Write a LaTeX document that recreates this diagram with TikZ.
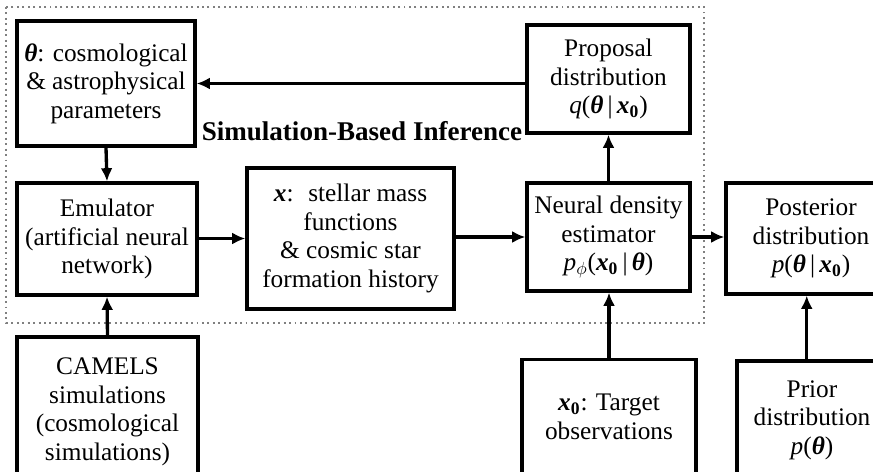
\documentclass[tikz,border=0pt]{standalone}
\usepackage{fontspec}
\setmainfont{Liberation Serif}
\usetikzlibrary{arrows.meta, calc, positioning}
\newcommand{\bth}{\textbf{\textit{θ}}}
\newcommand{\bx}{\textbf{\textit{x}}}
\newcommand{\bxo}{\bx\textsubscript{\textbf{0}}}

\begin{document}
\begin{tikzpicture}[x=0.02cm,y=-0.02cm,
  box/.style={draw, line width=1.9pt, align=center, inner sep=1pt, font=\fontsize{14.4}{16.2}\selectfont},
  arr/.style={line width=1.9pt, -{Latex[length=7.5pt,width=6.8pt]}}]
\useasboundingbox (0,0) rectangle (873,471);
\clip (0,0) rectangle (873,471);
% simulation-based inference frame
\draw[gray, dotted, line width=1.1pt] (6,7) rectangle (704,323);
\node[font=\fontsize{15.4}{17}\selectfont\bfseries] (sbi) at (362,131) {Simulation-Based Inference};
\node[box, minimum width=3.56cm, minimum height=2.5cm] (theta) at (106,83.5) {\bth: cosmological\\ \& astrophysical\\ parameters};
\node[box, minimum width=3.6cm, minimum height=2.24cm] (emu) at (107,239) {Emulator\\ (artificial neural\\ network)};
\node[box, minimum width=4.14cm, minimum height=2.82cm] (xsum) at (350.5,238.5) {\bx:~ stellar mass\\ functions\\ \& cosmic star\\ formation history};
\node[box, minimum width=3.26cm, minimum height=2.16cm] (prop) at (608.5,79) {Proposal\\ distribution\\ \textit{q}(\bth\,|\,\bxo)};
\node[box, minimum width=3.26cm, minimum height=2.16cm] (nde) at (608.5,237) {Neural density\\ estimator\\ \textit{p}$_\phi$(\bxo\,|\,\bth)};
\node[box, minimum width=3.4cm, minimum height=2.22cm] (post) at (811,238.5) {Posterior\\ distribution\\ \textit{p}(\bth\,|\,\bxo)};
% inputs below the frame
\node[box, minimum width=3.62cm, minimum height=3cm] (camels) at (107.5,412) {CAMELS\\ simulations\\ (cosmological\\ simulations)};
\node[box, minimum width=3.48cm, minimum height=2.3cm] (obs) at (609,417) {\bxo: Target\\ observations};
\node[box, minimum width=3cm, minimum height=2.36cm] (prior) at (812,420) {Prior\\ distribution\\ \textit{p}(\bth)};
% connectors
\draw[arr] (prop.west |- theta.east) -- (theta.east);
\draw[arr] (theta.south) -- (emu.north);
\draw[arr] (camels.north) -- (emu.south);
\draw[arr] (emu.east |- xsum.west) -- (xsum.west);
\draw[arr] (xsum.east |- nde.west) -- (nde.west);
\draw[arr] (nde.east) -- (post.west |- nde.east);
\draw[arr] (nde.north) -- (prop.south);
\draw[arr] (obs.north) -- (obs.north |- nde.south);
\draw[arr] ([xshift=-3pt]prior.north) -- ([xshift=-3pt]prior.north |- post.south);
\end{tikzpicture}
\end{document}
